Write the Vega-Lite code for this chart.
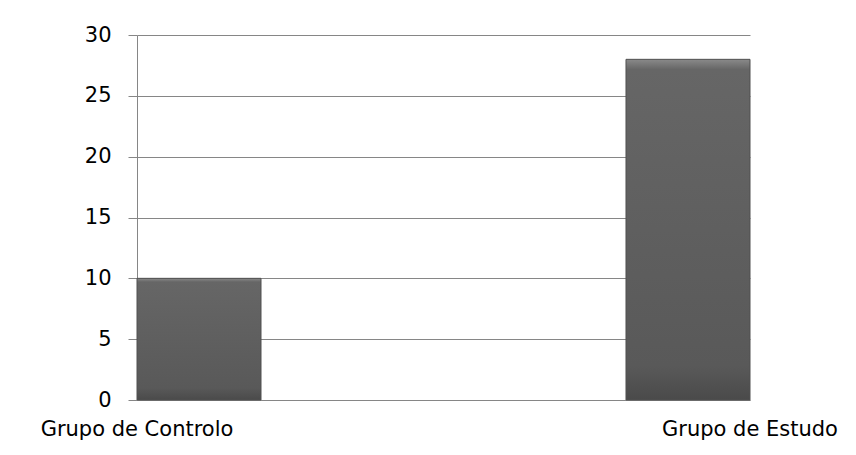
{
  "$schema": "https://vega.github.io/schema/vega-lite/v6.json",
  "width": 613,
  "height": 365,
  "autosize": {"type": "none"},
  "padding": {"left": 137, "top": 35, "right": 106, "bottom": 55},
  "background": "white",
  "config": {
    "view": {"stroke": null},
    "axis": {
      "labelFont": "DejaVu Sans",
      "labelFontSize": 21,
      "labelColor": "#000000",
      "labelLimit": 0,
      "domainColor": "#868686",
      "gridColor": "#868686",
      "tickColor": "#868686"
    }
  },
  "data": {
    "values": [
      {"grupo": "Grupo de Controlo", "valor": 10},
      {"grupo": "Grupo de Estudo", "valor": 28}
    ]
  },
  "mark": {
    "type": "bar",
    "color": {
      "gradient": "linear",
      "x1": 0, "y1": 0, "x2": 0, "y2": 1,
      "stops": [
        {"offset": 0, "color": "#8a8a8a"},
        {"offset": 0.03, "color": "#666666"},
        {"offset": 0.9, "color": "#595959"},
        {"offset": 1, "color": "#4a4a4a"}
      ]
    },
    "stroke": "#505050",
    "strokeWidth": 1
  },
  "encoding": {
    "x": {
      "field": "grupo",
      "type": "nominal",
      "title": null,
      "scale": {"paddingInner": 0.7464, "paddingOuter": 0},
      "axis": {
        "labelAngle": 0,
        "ticks": false,
        "grid": false,
        "labelPadding": 18,
        "labelOffset": {"condition": {"test": "datum.value === 'Grupo de Controlo'", "value": -62}, "value": 62}
      }
    },
    "y": {
      "field": "valor",
      "type": "quantitative",
      "title": null,
      "scale": {"domain": [0, 30]},
      "axis": {
        "values": [0, 5, 10, 15, 20, 25, 30],
        "tickSize": 9,
        "labelPadding": 17,
        "grid": true
      }
    }
  }
}
